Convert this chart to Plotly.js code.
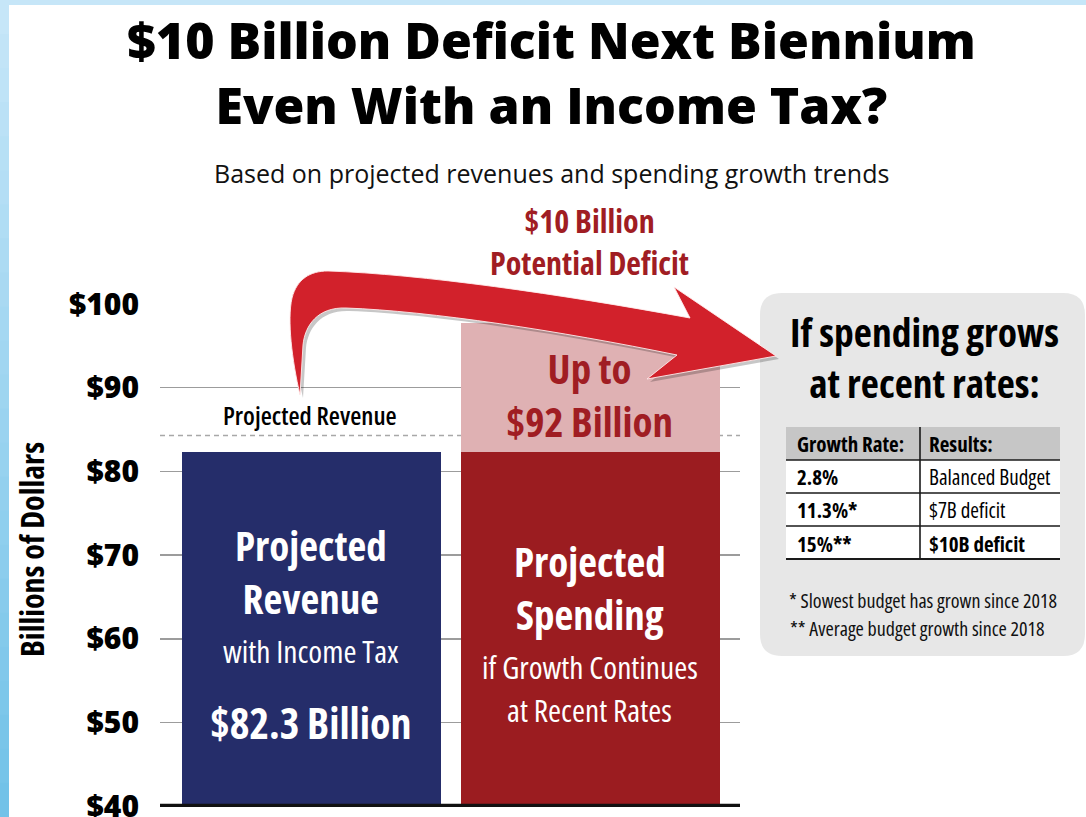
<!DOCTYPE html>
<html>
<head>
<meta charset="utf-8">
<script src="https://cdn.plot.ly/plotly-3.0.1.min.js"></script>
<style>
html,body{margin:0;padding:0;background:#fff;}
#chart{width:1086px;height:817px;}
text[style*="cond75"], tspan[style*="cond75"] { font-stretch: 75% !important; }
</style>
</head>
<body>
<div id="chart"></div>
<script>
// ---------------- data ----------------
const categories = ['Projected Revenue', 'Projected Spending'];
const baseValues = [82.3, 82.3];          // $ billions (revenue, spending at revenue level)
const potentialDeficit = [0, 15.4];       // extra spending segment as drawn (pink)
const revenueLine = 84.3;                 // dashed "Projected Revenue" line as drawn
const tickValues = [40, 50, 60, 70, 80, 90, 100];
const tickLabels = ['$40', '$50', '$60', '$70', '$80', '$90', '$100'];
const tableHeader = ['Growth Rate:', 'Results:'];
const growthRates = ['2.8%', '11.3%*', '15%**'];
const results = ['Balanced Budget', '$7B deficit', '$10B deficit'];
const footnotes = ['* Slowest budget has grown since 2018', '** Average budget growth since 2018'];

// ---------------- helpers ----------------
const W = 1086, H = 817;
const px = x => x / W;
const py = y => 1 - y / H;
const COND = 'Open Sans, cond75, sans-serif';
const OPEN = 'Open Sans, sans-serif';
const BLUE = '#252d6a', DARKRED = '#9b1c20', PINK = '#dfb1b3', TXTRED = '#a01d23';

function ann(text, x, y, size, color, opts) {
  return Object.assign({
    text: text, x: px(x), y: py(y), xref: 'paper', yref: 'paper',
    xanchor: 'center', yanchor: 'middle', showarrow: false,
    font: {family: COND, size: size, color: color}
  }, opts || {});
}
function path(pts) {
  return pts.map(c => {
    const nums = c.slice(1);
    const out = [];
    for (let i = 0; i < nums.length; i += 2) out.push(px(nums[i]).toFixed(5) + ',' + py(nums[i + 1]).toFixed(5));
    return c[0] + out.join(' ');
  }).join(' ') + ' Z';
}
function rect(x0, y0, x1, y1, fill, layer) {
  return {type: 'rect', xref: 'paper', yref: 'paper', x0: px(x0), x1: px(x1), y0: py(y1), y1: py(y0),
          fillcolor: fill, line: {width: 0}, layer: layer || 'above'};
}
function hline(x0, x1, y, color, w) {
  return {type: 'line', xref: 'paper', yref: 'paper', x0: px(x0), x1: px(x1), y0: py(y), y1: py(y),
          line: {color: color, width: w}, layer: 'above'};
}

// ---------------- traces ----------------
const traces = [
  {type: 'bar', x: categories, y: baseValues, width: 0.928,
   marker: {color: [BLUE, DARKRED], line: {width: 0}}, hoverinfo: 'skip'},
  {type: 'bar', x: categories, y: potentialDeficit, width: 0.928,
   marker: {color: PINK, line: {width: 0}}, hoverinfo: 'skip'}
];

// ---------------- shapes ----------------
const shapes = [];
shapes.push({type: 'rect', xref: 'paper', yref: 'paper', x0: 0, x1: 1, y0: py(5), y1: 1,
             fillcolor: '#c6e6f8', line: {width: 0}, layer: 'below'});
const N = 24;
for (let i = 0; i < N; i++) {
  const t = i / (N - 1);
  const r = Math.round(198 + (114 - 198) * t), g = Math.round(230 + (194 - 230) * t), b = Math.round(248 + (232 - 248) * t);
  shapes.push({type: 'rect', xref: 'paper', yref: 'paper', x0: 0, x1: px(9),
               y0: py(i * H / N + H / N + 1), y1: py(i * H / N),
               fillcolor: `rgb(${r},${g},${b})`, line: {width: 0}, layer: 'below'});
}
const bx0 = 760, bx1 = 1085, by0 = 293, by1 = 656, rr = 22;
shapes.push({type: 'path', xref: 'paper', yref: 'paper', layer: 'below',
  path: path([['M', bx0 + rr, by0], ['L', bx1 - rr, by0], ['Q', bx1, by0, bx1, by0 + rr],
              ['L', bx1, by1 - rr], ['Q', bx1, by1, bx1 - rr, by1], ['L', bx0 + rr, by1],
              ['Q', bx0, by1, bx0, by1 - rr], ['L', bx0, by0 + rr], ['Q', bx0, by0, bx0 + rr, by0]]),
  fillcolor: '#e7e7e7', line: {width: 0}});
shapes.push({type: 'line', xref: 'x domain', yref: 'y', x0: 0, x1: 1, y0: revenueLine, y1: revenueLine,
             line: {color: '#a8a8a8', width: 1.5, dash: '5px,4px'}, layer: 'below'});
shapes.push({type: 'line', xref: 'x domain', yref: 'y', x0: 0, x1: 1, y0: tickValues[0], y1: tickValues[0],
             line: {color: '#111', width: 5}, layer: 'above'});
function arrowPts(dx, dy) {
  const raw = [['M', 300, 395], ['C', 292, 360, 287, 320, 292, 298], ['C', 297, 279, 310, 271, 328, 271],
               ['C', 420, 274, 560, 294, 690, 318], ['L', 674, 287], ['L', 776, 356], ['L', 647, 379],
               ['L', 677, 355], ['C', 560, 331, 430, 311, 346, 308], ['C', 318, 307, 305, 325, 303, 345],
               ['L', 300, 395]];
  return raw.map(c => [c[0]].concat(c.slice(1).map((v, i) => v + (i % 2 === 0 ? dx : dy))));
}
shapes.push({type: 'path', xref: 'paper', yref: 'paper', layer: 'above', path: path(arrowPts(3, 3)),
             fillcolor: 'rgba(0,0,0,0.22)', line: {width: 0}});
shapes.push({type: 'path', xref: 'paper', yref: 'paper', layer: 'above', path: path(arrowPts(0, 0)),
             fillcolor: '#d2212b', line: {color: 'rgba(255,235,235,0.9)', width: 1}});

// ---------------- table (drawn with shapes + annotations) ----------------
const tX0 = 786, tXdiv = 920, tX1 = 1060, tY0 = 427, rowH = 33;
const annotations = [];
shapes.push(rect(tX0, tY0, tX1, tY0 + rowH, '#c6c6c6'));
for (let i = 0; i < growthRates.length; i++) {
  const y0 = tY0 + rowH * (i + 1);
  shapes.push(rect(tX0, y0, tX1, y0 + rowH, '#ffffff'));
}
for (let i = 1; i <= growthRates.length; i++) {
  shapes.push(hline(tX0, tX1, tY0 + rowH * i, '#1a1a1a', i === 1 ? 1.6 : 1.4));
}
shapes.push(hline(tX0, tX1, tY0 + rowH * (growthRates.length + 1), '#1a1a1a', 2));
shapes.push({type: 'line', xref: 'paper', yref: 'paper', x0: px(tXdiv), x1: px(tXdiv),
             y0: py(tY0), y1: py(tY0 + rowH * (growthRates.length + 1)), line: {color: '#1a1a1a', width: 1.6}, layer: 'above'});
const cellAnn = (text, x, y) => ann(text, x, y, 21, '#000', {xanchor: 'left'});
annotations.push(cellAnn('<b>' + tableHeader[0] + '</b>', tX0 + 9, tY0 + rowH / 2));
annotations.push(cellAnn('<b>' + tableHeader[1] + '</b>', tXdiv + 7, tY0 + rowH / 2));
growthRates.forEach((g, i) => {
  const yc = tY0 + rowH * (i + 1.5) + 1;
  annotations.push(cellAnn('<b>' + g + '</b>', tX0 + 9, yc));
  const r = results[i];
  annotations.push(cellAnn(i === results.length - 1 ? '<b>' + r + '</b>' : r, tXdiv + 7, yc));
});

// ---------------- other annotations ----------------
annotations.push(
  Object.assign(ann('$10 Billion Deficit Next Biennium<br>Even With an Income Tax?', 551, 72.5, 50, '#000'),
                {font: {family: OPEN, size: 50, color: '#000', weight: 800}}),
  Object.assign(ann('Based on projected revenues and spending growth trends', 551, 173, 25, '#111'), {font: {family: OPEN, size: 25, color: '#111'}}),
  ann('<b>$10 Billion<br>Potential Deficit</b>', 590, 241.5, 32, TXTRED),
  ann('<b>Up to<br>$92 Billion</b>', 590, 394, 41, TXTRED),
  Object.assign(ann('Projected Revenue', 310, 415, 25.5, '#000'), {font: {family: COND, size: 25.5, color: '#000', weight: 600}}),
  ann('<b>Projected<br>Revenue</b>', 311, 571.5, 41, '#fff'),
  ann('with Income Tax', 311, 650, 31.5, '#fff'),
  ann('<b>$82.3 Billion</b>', 311, 722, 42, '#fff'),
  ann('<b>Projected<br>Spending</b>', 590, 587, 41, '#fff'),
  ann('if Growth Continues', 590, 666, 31.5, '#fff'),
  ann('at Recent Rates', 590, 709, 31.5, '#fff'),
  ann('<b>Billions of Dollars</b>', 31, 550, 32, '#000', {textangle: -90}),
  ann('<b>If spending grows<br>at recent rates:</b>', 924, 358, 39.5, '#000'),
  ann(footnotes[0], 923, 600, 20, '#111'),
  ann(footnotes[1], 917, 628, 20, '#111')
);

// ---------------- layout ----------------
const layout = {
  width: W, height: H,
  margin: {l: 0, r: 0, t: 0, b: 0, pad: 0},
  paper_bgcolor: '#ffffff', plot_bgcolor: 'rgba(0,0,0,0)',
  showlegend: false, barmode: 'stack', bargap: 0,
  xaxis: {domain: [px(160), px(740)], type: 'category', range: [-0.543, 1.536],
          showticklabels: false, showgrid: false, zeroline: false, showline: false, ticks: '', fixedrange: true},
  yaxis: {domain: [py(807), py(304)], range: [39.9, 100], tickvals: tickValues, ticktext: tickLabels,
          showgrid: true, gridcolor: '#9c9c9c', gridwidth: 1.5, zeroline: false, showline: false,
          ticks: '', ticklabelstandoff: 20, ticklabeloverflow: 'allow',
          tickfont: {family: OPEN, size: 30, color: '#000', weight: 800}, fixedrange: true},
  shapes: shapes,
  annotations: annotations
};

Plotly.newPlot('chart', traces, layout, {displayModeBar: false, staticPlot: true});
</script>
</body>
</html>
